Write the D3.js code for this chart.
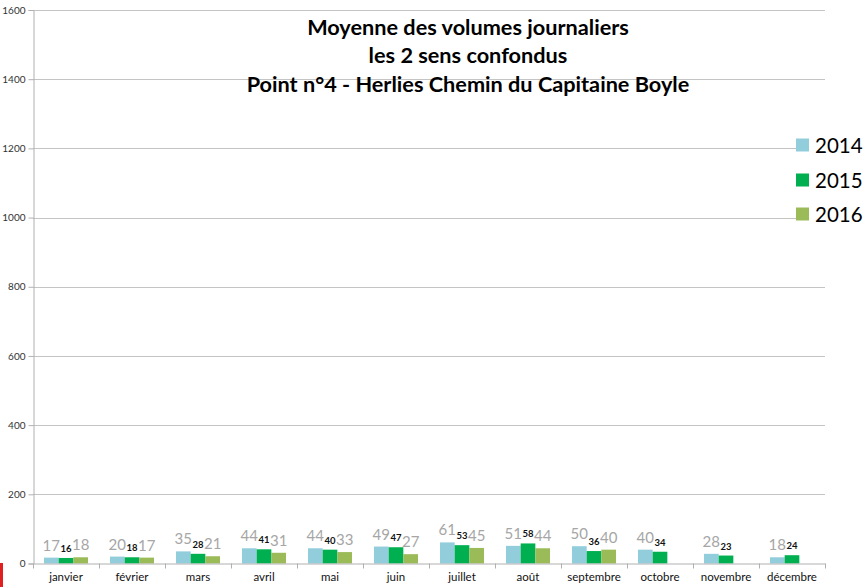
<!DOCTYPE html>
<html><head><meta charset="utf-8">
<script src="https://cdn.jsdelivr.net/npm/d3@7"></script>
<style>
html,body{margin:0;padding:0;background:#fff;}
svg{display:block;font-family:Lato,"Open Sans",sans-serif;}
</style></head>
<body>
<svg id="c" width="863" height="587"></svg>
<script>
const months = ["janvier","février","mars","avril","mai","juin","juillet","août","septembre","octobre","novembre","décembre"];
const series = ["2014","2015","2016"];
const v2014 = [17,20,35,44,44,49,61,51,50,40,28,18];
const v2015 = [16,18,28,41,40,47,53,58,36,34,23,24];
const v2016 = [18,17,21,31,33,27,45,44,40,null,null,null];
const yTicks = [0,200,400,600,800,1000,1200,1400,1600];
const titleLines = ["Moyenne des volumes journaliers","les 2 sens confondus","Point n°4 - Herlies Chemin du Capitaine Boyle"];
const colors = {"2014":"#92CDDC","2015":"#00B050","2016":"#9BBB59"};
const values = {"2014":v2014,"2015":v2015,"2016":v2016};

const svg = d3.select("#c");
const L = 33, R = 825, T = 10, B = 563.5;
const x = d3.scaleBand().domain(months).range([L,R]).paddingInner(0.333).paddingOuter(0.1665);
const xs = d3.scaleBand().domain(series).range([0,x.bandwidth()]);
const y = d3.scaleLinear().domain([0,1600]).range([B,T]);

// red mark bottom-left
svg.append("rect").attr("x",0).attr("y",563).attr("width",3).attr("height",24).attr("fill","#e02020");

// gridlines
svg.append("g").selectAll("line").data(yTicks.filter(d=>d>0)).join("line")
  .attr("x1",L).attr("x2",R).attr("y1",d=>Math.round(y(d))+0.5).attr("y2",d=>Math.round(y(d))+0.5)
  .attr("stroke","#c4c4c4").attr("stroke-width",1);

// y axis
const ya = svg.append("g").attr("transform",`translate(${L+0.5},0)`)
  .call(d3.axisLeft(y).tickValues(yTicks).tickSize(5).tickPadding(3).tickFormat(d3.format("d")));
ya.select(".domain").attr("stroke","#b0b0b0");
ya.selectAll(".tick line").attr("stroke","#b0b0b0");
ya.selectAll(".tick text").attr("font-size",10).attr("fill","#333").attr("font-family","Lato,'Open Sans',sans-serif");

// bars
const g = svg.append("g");
series.forEach(s=>{
  const data = months.map((m,i)=>({m,v:values[s][i]})).filter(d=>d.v!=null);
  g.selectAll(null).data(data).join("rect")
    .attr("x",d=>x(d.m)+xs(s)).attr("width",xs.bandwidth())
    .attr("y",d=>y(d.v)).attr("height",d=>y(0)-y(d.v))
    .attr("fill",colors[s]);
  g.selectAll(null).data(data).join("text")
    .attr("x",d=>x(d.m)+xs(s)+xs.bandwidth()/2)
    .attr("y",d=>y(d.v)-(s==="2015"?6:7))
    .attr("text-anchor","middle")
    .attr("font-size",s==="2015"?9.5:15)
    .attr("font-weight",s==="2015"?"bold":"normal")
    .attr("fill",s==="2015"?"#111":"#a6a6a6")
    .text(d=>d.v);
});

// x axis
const xa = svg.append("g").attr("transform",`translate(0,${B})`)
  .call(d3.axisBottom(x).tickSize(0).tickPadding(9));
xa.select(".domain").attr("stroke","#b0b0b0");
xa.selectAll(".tick text").attr("font-size",11.5).attr("fill","#111").attr("font-family","Lato,'Open Sans',sans-serif");
const bounds = months.map(m=>x(m)-x.step()*x.paddingInner()/2).concat([R]);
svg.append("g").selectAll("line").data(bounds).join("line")
  .attr("x1",d=>Math.round(d)+0.5).attr("x2",d=>Math.round(d)+0.5)
  .attr("y1",B).attr("y2",B+5).attr("stroke","#b0b0b0");

// title
const tl = svg.append("g").attr("font-weight","bold").attr("fill","#000").attr("text-anchor","middle");
const tys = [35,63,92];
titleLines.forEach((t,i)=>{
  tl.append("text").attr("x",468).attr("y",tys[i]).attr("font-size",20).text(t);
});
const w3 = tl.selectAll("text").nodes()[2].getComputedTextLength();
const fs = 20*443/w3;
tl.selectAll("text").attr("font-size",fs);

// legend
const lg = svg.append("g");
series.forEach((s,i)=>{
  const cy = [145,180,214][i];
  lg.append("rect").attr("x",809).attr("y",cy-13).attr("width",54).attr("height",26).attr("fill","#fff");
  lg.append("rect").attr("x",796).attr("y",cy-6.5).attr("width",13).attr("height",13).attr("fill",colors[s]);
  lg.append("text").attr("x",815).attr("y",cy+7.5).attr("font-size",20.5).attr("fill","#000").text(s);
});
</script>
</body></html>
